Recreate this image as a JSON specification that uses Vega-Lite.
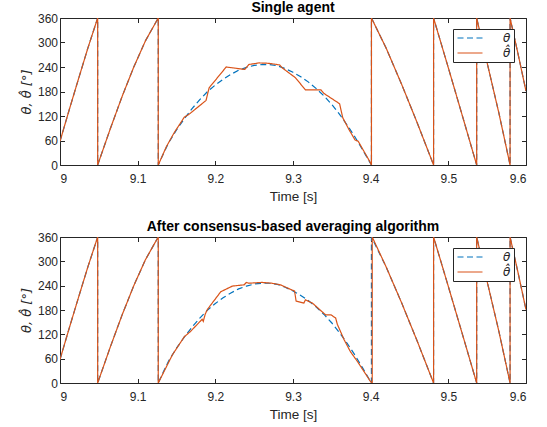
{
  "$schema": "https://vega.github.io/schema/vega-lite/v6.json",
  "padding": {"left": 20, "top": 1, "right": 5, "bottom": 2},
  "background": "white",
  "datasets": {
    "theta": [
      {"i": 1, "t": 9.000, "v": 58}, {"i": 2, "t": 9.012, "v": 136}, {"i": 3, "t": 9.024, "v": 212}, {"i": 4, "t": 9.036, "v": 287}, {"i": 5, "t": 9.0485, "v": 360},
      {"i": 6, "t": 9.0485, "v": 0}, {"i": 7, "t": 9.065, "v": 90}, {"i": 8, "t": 9.080, "v": 168}, {"i": 9, "t": 9.095, "v": 240}, {"i": 10, "t": 9.110, "v": 304}, {"i": 11, "t": 9.1265, "v": 360},
      {"i": 12, "t": 9.1265, "v": 0}, {"i": 13, "t": 9.133, "v": 27}, {"i": 14, "t": 9.140, "v": 55}, {"i": 15, "t": 9.150, "v": 86}, {"i": 16, "t": 9.160, "v": 113},
      {"i": 17, "t": 9.170, "v": 138}, {"i": 18, "t": 9.180, "v": 160}, {"i": 19, "t": 9.190, "v": 180}, {"i": 20, "t": 9.200, "v": 196}, {"i": 21, "t": 9.210, "v": 210},
      {"i": 22, "t": 9.220, "v": 222}, {"i": 23, "t": 9.230, "v": 232}, {"i": 24, "t": 9.240, "v": 239}, {"i": 25, "t": 9.250, "v": 244}, {"i": 26, "t": 9.260, "v": 246},
      {"i": 27, "t": 9.270, "v": 246}, {"i": 28, "t": 9.280, "v": 243}, {"i": 29, "t": 9.290, "v": 236}, {"i": 30, "t": 9.300, "v": 227}, {"i": 31, "t": 9.310, "v": 216},
      {"i": 32, "t": 9.320, "v": 203}, {"i": 33, "t": 9.330, "v": 187}, {"i": 34, "t": 9.340, "v": 169}, {"i": 35, "t": 9.350, "v": 148}, {"i": 36, "t": 9.360, "v": 124},
      {"i": 37, "t": 9.370, "v": 97}, {"i": 38, "t": 9.380, "v": 68}, {"i": 39, "t": 9.390, "v": 36}, {"i": 40, "t": 9.401, "v": 0},
      {"i": 41, "t": 9.401, "v": 360}, {"i": 42, "t": 9.420, "v": 286}, {"i": 43, "t": 9.440, "v": 197}, {"i": 44, "t": 9.460, "v": 103}, {"i": 45, "t": 9.481, "v": 0},
      {"i": 46, "t": 9.481, "v": 360}, {"i": 47, "t": 9.500, "v": 238}, {"i": 48, "t": 9.520, "v": 108}, {"i": 49, "t": 9.5365, "v": 0},
      {"i": 50, "t": 9.5365, "v": 360}, {"i": 51, "t": 9.550, "v": 250}, {"i": 52, "t": 9.565, "v": 128}, {"i": 53, "t": 9.5795, "v": 0},
      {"i": 54, "t": 9.5795, "v": 360}, {"i": 55, "t": 9.590, "v": 270}, {"i": 56, "t": 9.600, "v": 181}
    ],
    "hatA": [
      {"i": 1, "t": 9.000, "v": 58}, {"i": 2, "t": 9.012, "v": 136}, {"i": 3, "t": 9.024, "v": 212}, {"i": 4, "t": 9.036, "v": 287}, {"i": 5, "t": 9.0485, "v": 360},
      {"i": 6, "t": 9.0485, "v": 0}, {"i": 7, "t": 9.065, "v": 90}, {"i": 8, "t": 9.080, "v": 168}, {"i": 9, "t": 9.095, "v": 240}, {"i": 10, "t": 9.110, "v": 304}, {"i": 11, "t": 9.1265, "v": 360},
      {"i": 12, "t": 9.1265, "v": 0}, {"i": 13, "t": 9.137, "v": 45}, {"i": 14, "t": 9.147, "v": 79}, {"i": 15, "t": 9.160, "v": 117}, {"i": 16, "t": 9.166, "v": 124},
      {"i": 17, "t": 9.188, "v": 158}, {"i": 18, "t": 9.192, "v": 189}, {"i": 19, "t": 9.214, "v": 240}, {"i": 20, "t": 9.238, "v": 234}, {"i": 21, "t": 9.243, "v": 246},
      {"i": 22, "t": 9.256, "v": 250}, {"i": 23, "t": 9.269, "v": 249}, {"i": 24, "t": 9.283, "v": 245}, {"i": 25, "t": 9.286, "v": 238}, {"i": 26, "t": 9.303, "v": 214},
      {"i": 27, "t": 9.316, "v": 184}, {"i": 28, "t": 9.336, "v": 184}, {"i": 29, "t": 9.340, "v": 175}, {"i": 30, "t": 9.360, "v": 150}, {"i": 31, "t": 9.364, "v": 116},
      {"i": 32, "t": 9.372, "v": 87}, {"i": 33, "t": 9.380, "v": 61}, {"i": 34, "t": 9.384, "v": 58}, {"i": 35, "t": 9.399, "v": 8}, {"i": 36, "t": 9.401, "v": 0},
      {"i": 41, "t": 9.401, "v": 360}, {"i": 42, "t": 9.420, "v": 286}, {"i": 43, "t": 9.440, "v": 197}, {"i": 44, "t": 9.460, "v": 103}, {"i": 45, "t": 9.481, "v": 0},
      {"i": 46, "t": 9.481, "v": 360}, {"i": 47, "t": 9.500, "v": 238}, {"i": 48, "t": 9.520, "v": 108}, {"i": 49, "t": 9.5365, "v": 0},
      {"i": 50, "t": 9.5365, "v": 360}, {"i": 51, "t": 9.550, "v": 250}, {"i": 52, "t": 9.565, "v": 128}, {"i": 53, "t": 9.5795, "v": 0},
      {"i": 54, "t": 9.5795, "v": 360}, {"i": 55, "t": 9.590, "v": 270}, {"i": 56, "t": 9.600, "v": 181}
    ],
    "hatB": [
      {"i": 1, "t": 9.000, "v": 58}, {"i": 2, "t": 9.012, "v": 136}, {"i": 3, "t": 9.024, "v": 212}, {"i": 4, "t": 9.036, "v": 287}, {"i": 5, "t": 9.0485, "v": 360},
      {"i": 6, "t": 9.0485, "v": 0}, {"i": 7, "t": 9.065, "v": 90}, {"i": 8, "t": 9.080, "v": 168}, {"i": 9, "t": 9.095, "v": 240}, {"i": 10, "t": 9.110, "v": 304}, {"i": 11, "t": 9.1265, "v": 360},
      {"i": 12, "t": 9.1265, "v": 0}, {"i": 13, "t": 9.1446, "v": 69}, {"i": 14, "t": 9.160, "v": 114}, {"i": 15, "t": 9.168, "v": 127}, {"i": 16, "t": 9.183, "v": 157},
      {"i": 17, "t": 9.1845, "v": 152}, {"i": 18, "t": 9.187, "v": 170}, {"i": 19, "t": 9.190, "v": 182}, {"i": 20, "t": 9.207, "v": 225}, {"i": 21, "t": 9.222, "v": 239},
      {"i": 22, "t": 9.237, "v": 242}, {"i": 23, "t": 9.240, "v": 248}, {"i": 24, "t": 9.243, "v": 246}, {"i": 25, "t": 9.260, "v": 248}, {"i": 26, "t": 9.273, "v": 246},
      {"i": 27, "t": 9.284, "v": 242}, {"i": 28, "t": 9.299, "v": 229}, {"i": 29, "t": 9.302, "v": 227}, {"i": 30, "t": 9.304, "v": 202}, {"i": 31, "t": 9.314, "v": 197},
      {"i": 32, "t": 9.316, "v": 205}, {"i": 33, "t": 9.325, "v": 197}, {"i": 34, "t": 9.342, "v": 168}, {"i": 35, "t": 9.349, "v": 168}, {"i": 36, "t": 9.355, "v": 160},
      {"i": 37, "t": 9.357, "v": 145}, {"i": 38, "t": 9.366, "v": 106}, {"i": 39, "t": 9.374, "v": 77}, {"i": 40, "t": 9.383, "v": 53}, {"i": 41, "t": 9.400, "v": 3}, {"i": 42, "t": 9.402, "v": 0},
      {"i": 43, "t": 9.402, "v": 360}, {"i": 44, "t": 9.420, "v": 286}, {"i": 45, "t": 9.440, "v": 197}, {"i": 46, "t": 9.460, "v": 103}, {"i": 47, "t": 9.481, "v": 0},
      {"i": 48, "t": 9.481, "v": 360}, {"i": 49, "t": 9.500, "v": 238}, {"i": 50, "t": 9.520, "v": 108}, {"i": 51, "t": 9.5365, "v": 0},
      {"i": 52, "t": 9.5365, "v": 360}, {"i": 53, "t": 9.550, "v": 250}, {"i": 54, "t": 9.565, "v": 128}, {"i": 55, "t": 9.5795, "v": 0},
      {"i": 56, "t": 9.5795, "v": 360}, {"i": 57, "t": 9.590, "v": 270}, {"i": 58, "t": 9.600, "v": 181}
    ]
  },
  "config": {
    "view": {"stroke": null},
    "font": "Liberation Sans",
    "axis": {
      "grid": false,
      "domainColor": "#262626",
      "tickColor": "#262626",
      "labelColor": "#262626",
      "titleColor": "#262626",
      "labelFont": "Liberation Sans",
      "labelFontSize": 12,
      "tickSize": -4.5,
      "tickWidth": 1,
      "domainWidth": 1
    },
    "title": {"font": "Liberation Sans", "fontSize": 14, "fontWeight": "bold", "color": "#000000", "frame": "group", "anchor": "middle", "offset": -3},
    "legend": {
      "orient": "none",
      "legendX": 393,
      "legendY": 11,
      "fillColor": "white",
      "strokeColor": "#262626",
      "padding": 3,
      "symbolType": "M-2.5,0H2.5",
      "symbolSize": 100,
      "symbolOffset": 8,
      "symbolStrokeWidth": 1.2,
      "labelFont": "DejaVu Sans",
      "labelFontStyle": "italic",
      "labelFontSize": 12,
      "labelColor": "#262626",
      "labelOffset": 27,
      "rowPadding": 3,
      "title": null
    }
  },
  "spacing": 17,
  "resolve": {"scale": {"color": "independent", "strokeDash": "independent"}},
  "vconcat": [
    {
      "title": "Single agent",
      "width": 466,
      "height": 147,
      "resolve": {"scale": {"x": "independent", "y": "independent"}},
      "layer": [
        {
          "encoding": {
            "x": {"field": "t", "type": "quantitative", "scale": {"domain": [9, 9.6], "nice": false, "zero": false},
                  "axis": {"orient": "bottom", "values": [9, 9.1, 9.2, 9.3, 9.4, 9.5, 9.6], "format": "~g", "title": "Time [s]", "titleFont": "Liberation Sans", "titleFontSize": 13.5, "titleFontWeight": "normal", "labelPadding": 13, "titlePadding": 5}},
            "y": {"field": "v", "type": "quantitative", "scale": {"domain": [0, 360], "nice": false},
                  "axis": {"orient": "left", "values": [0, 60, 120, 180, 240, 300, 360], "title": "θ, θ̂ [°]", "titleFont": "DejaVu Sans", "titleFontStyle": "italic", "titleFontSize": 13, "titleFontWeight": "normal", "labelPadding": 7, "titlePadding": 4}},
            "order": {"field": "i", "type": "quantitative"}
          },
          "layer": [
            {
              "data": {"name": "theta"},
              "mark": {"type": "line", "strokeWidth": 1.2, "clip": true},
              "encoding": {
                "color": {"datum": "θ", "type": "nominal", "scale": {"domain": ["θ", "θ̂"], "range": ["#0072BD", "#D95319"]}},
                "strokeDash": {"datum": "θ", "type": "nominal", "scale": {"domain": ["θ", "θ̂"], "range": [[6, 3.5], [1, 0]]}}
              }
            },
            {
              "data": {"name": "hatA"},
              "mark": {"type": "line", "strokeWidth": 1.2, "clip": true},
              "encoding": {
                "color": {"datum": "θ̂", "type": "nominal"},
                "strokeDash": {"datum": "θ̂", "type": "nominal"}
              }
            }
          ]
        },
        {
          "data": {"name": "theta"},
          "mark": {"type": "point", "opacity": 0},
          "encoding": {
            "x": {"field": "t", "type": "quantitative", "scale": {"domain": [9, 9.6], "nice": false, "zero": false},
                  "axis": {"orient": "top", "values": [9, 9.1, 9.2, 9.3, 9.4, 9.5, 9.6], "labels": false, "title": null}},
            "y": {"field": "v", "type": "quantitative", "scale": {"domain": [0, 360], "nice": false},
                  "axis": {"orient": "right", "values": [0, 60, 120, 180, 240, 300, 360], "labels": false, "title": null}}
          }
        }
      ]
    },
    {
      "title": "After consensus-based averaging algorithm",
      "width": 466,
      "height": 146,
      "resolve": {"scale": {"x": "independent", "y": "independent"}},
      "layer": [
        {
          "encoding": {
            "x": {"field": "t", "type": "quantitative", "scale": {"domain": [9, 9.6], "nice": false, "zero": false},
                  "axis": {"orient": "bottom", "values": [9, 9.1, 9.2, 9.3, 9.4, 9.5, 9.6], "format": "~g", "title": "Time [s]", "titleFont": "Liberation Sans", "titleFontSize": 13.5, "titleFontWeight": "normal", "labelPadding": 13, "titlePadding": 5}},
            "y": {"field": "v", "type": "quantitative", "scale": {"domain": [0, 360], "nice": false},
                  "axis": {"orient": "left", "values": [0, 60, 120, 180, 240, 300, 360], "title": "θ, θ̂ [°]", "titleFont": "DejaVu Sans", "titleFontStyle": "italic", "titleFontSize": 13, "titleFontWeight": "normal", "labelPadding": 7, "titlePadding": 4}},
            "order": {"field": "i", "type": "quantitative"}
          },
          "layer": [
            {
              "data": {"name": "theta"},
              "mark": {"type": "line", "strokeWidth": 1.2, "clip": true},
              "encoding": {
                "color": {"datum": "θ", "type": "nominal", "scale": {"domain": ["θ", "θ̂"], "range": ["#0072BD", "#D95319"]}},
                "strokeDash": {"datum": "θ", "type": "nominal", "scale": {"domain": ["θ", "θ̂"], "range": [[6, 3.5], [1, 0]]}}
              }
            },
            {
              "data": {"name": "hatB"},
              "mark": {"type": "line", "strokeWidth": 1.2, "clip": true},
              "encoding": {
                "color": {"datum": "θ̂", "type": "nominal"},
                "strokeDash": {"datum": "θ̂", "type": "nominal"}
              }
            }
          ]
        },
        {
          "data": {"name": "theta"},
          "mark": {"type": "point", "opacity": 0},
          "encoding": {
            "x": {"field": "t", "type": "quantitative", "scale": {"domain": [9, 9.6], "nice": false, "zero": false},
                  "axis": {"orient": "top", "values": [9, 9.1, 9.2, 9.3, 9.4, 9.5, 9.6], "labels": false, "title": null}},
            "y": {"field": "v", "type": "quantitative", "scale": {"domain": [0, 360], "nice": false},
                  "axis": {"orient": "right", "values": [0, 60, 120, 180, 240, 300, 360], "labels": false, "title": null}}
          }
        }
      ]
    }
  ]
}
